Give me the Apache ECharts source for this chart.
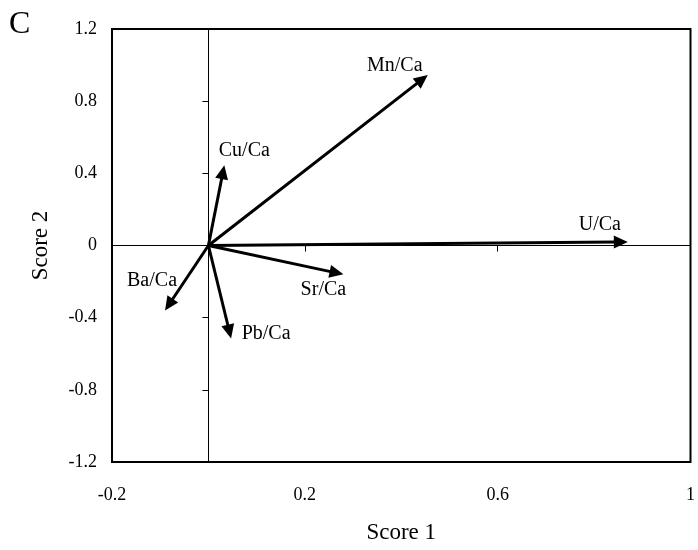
<!DOCTYPE html>
<html>
<head>
<meta charset="utf-8">
<script src="https://cdn.jsdelivr.net/npm/echarts@6/dist/echarts.min.js"></script>
<style>
  html, body { margin: 0; padding: 0; background: #fff; }
  #chart { width: 698px; height: 550px; }
</style>
</head>
<body>
<div id="chart"></div>
<script>
// PCA loading vectors (Score 1, Score 2) for each element ratio
const categories = ['U/Ca', 'Mn/Ca', 'Cu/Ca', 'Sr/Ca', 'Ba/Ca', 'Pb/Ca'];
const score1 = [0.87, 0.455, 0.033, 0.28, -0.09, 0.047];
const score2 = [0.02, 0.945, 0.445, -0.16, -0.36, -0.515];

// Axis tick labels
const xTickLabels = ['-0.2', '0.2', '0.6', '1'];
const yTickLabels = ['-1.2', '-0.8', '-0.4', '0', '0.4', '0.8', '1.2'];

// Label placement relative to each arrow tip (pixels)
const labelOffset = {
  'U/Ca': [-28, -17],
  'Mn/Ca': [-33, -9],
  'Cu/Ca': [20, -14],
  'Sr/Ca': [-20, 15],
  'Ba/Ca': [-13, -30],
  'Pb/Ca': [35, -5]
};

const FONT = "'Liberation Serif', 'Times New Roman', serif";
const chart = echarts.init(document.getElementById('chart'));

function fmt(v) {
  return String(Math.round(v * 10) / 10);
}

// Draws one loading vector: a shaft from the origin and a filled head whose tip sits on the value
function renderArrow(params, api) {
  const x = api.value(0), y = api.value(1);
  const name = categories[params.dataIndex];
  const p0 = api.coord([0, 0]);
  const p1 = api.coord([x, y]);
  const dx = p1[0] - p0[0], dy = p1[1] - p0[1];
  const len = Math.sqrt(dx * dx + dy * dy);
  const ux = dx / len, uy = dy / len;
  const headLen = 14, headHalf = 6.5;
  const bx = p1[0] - ux * headLen, by = p1[1] - uy * headLen;
  const px = -uy, py = ux;
  const off = labelOffset[name] || [0, 0];
  return {
    type: 'group',
    children: [
      {
        type: 'line',
        shape: { x1: p0[0], y1: p0[1], x2: bx + ux * 2, y2: by + uy * 2 },
        style: { stroke: '#000', lineWidth: 3 }
      },
      {
        type: 'polygon',
        shape: { points: [[p1[0], p1[1]], [bx + px * headHalf, by + py * headHalf], [bx - px * headHalf, by - py * headHalf]] },
        style: { fill: '#000' }
      },
      {
        type: 'text',
        x: p1[0] + off[0],
        y: p1[1] + off[1],
        style: {
          text: name, fill: '#000', font: '20px ' + FONT,
          align: 'center', verticalAlign: 'middle'
        }
      }
    ]
  };
}

const option = {
  animation: false,
  backgroundColor: '#fff',
  title: {
    text: 'C', left: 9, top: 9, padding: 0,
    textStyle: { fontFamily: FONT, fontSize: 32, fontWeight: 'normal', color: '#000' }
  },
  grid: {
    left: 112, right: 4, top: 29, bottom: 88,
    show: true, borderColor: '#000', borderWidth: 2, backgroundColor: 'transparent'
  },
  xAxis: [
    {
      type: 'value', min: -0.2, max: 1, interval: 0.4, position: 'bottom',
      axisLine: { show: false, onZero: false },
      axisTick: { show: false },
      splitLine: { show: false },
      axisLabel: {
        margin: 24, fontSize: 18, fontFamily: FONT, color: '#000',
        formatter: v => xTickLabels.includes(fmt(v)) ? fmt(v) : ''
      },
      name: 'Score 1', nameLocation: 'middle', nameGap: 59,
      nameTextStyle: { fontFamily: FONT, fontSize: 23, color: '#000' }
    },
    {
      // zero line through y = 0 with its tick marks
      type: 'value', min: -0.2, max: 1, interval: 0.4, position: 'bottom',
      axisLine: { show: true, onZero: true, onZeroAxisIndex: 0, lineStyle: { color: '#000', width: 1 } },
      axisTick: { show: true, length: 6, lineStyle: { color: '#000', width: 1 } },
      axisLabel: { show: false },
      splitLine: { show: false }
    }
  ],
  yAxis: [
    {
      type: 'value', min: -1.2, max: 1.2, interval: 0.4, position: 'left',
      axisLine: { show: false, onZero: false },
      axisTick: { show: false },
      splitLine: { show: false },
      axisLabel: {
        margin: 15, fontSize: 18, fontFamily: FONT, color: '#000',
        formatter: v => yTickLabels.includes(fmt(v)) ? fmt(v) : ''
      },
      name: 'Score 2', nameLocation: 'middle', nameGap: 60, nameRotate: 90,
      nameTextStyle: { fontFamily: FONT, fontSize: 23, color: '#000' }
    },
    {
      // zero line through x = 0 with its tick marks
      type: 'value', min: -1.2, max: 1.2, interval: 0.4, position: 'left',
      axisLine: { show: true, onZero: true, onZeroAxisIndex: 0, lineStyle: { color: '#000', width: 1 } },
      axisTick: { show: true, length: 6, lineStyle: { color: '#000', width: 1 } },
      axisLabel: { show: false },
      splitLine: { show: false }
    }
  ],
  series: [
    {
      type: 'custom',
      xAxisIndex: 0, yAxisIndex: 0,
      renderItem: renderArrow,
      clip: false,
      data: categories.map((c, i) => [score1[i], score2[i]])
    }
  ]
};

chart.setOption(option);
</script>
</body>
</html>
